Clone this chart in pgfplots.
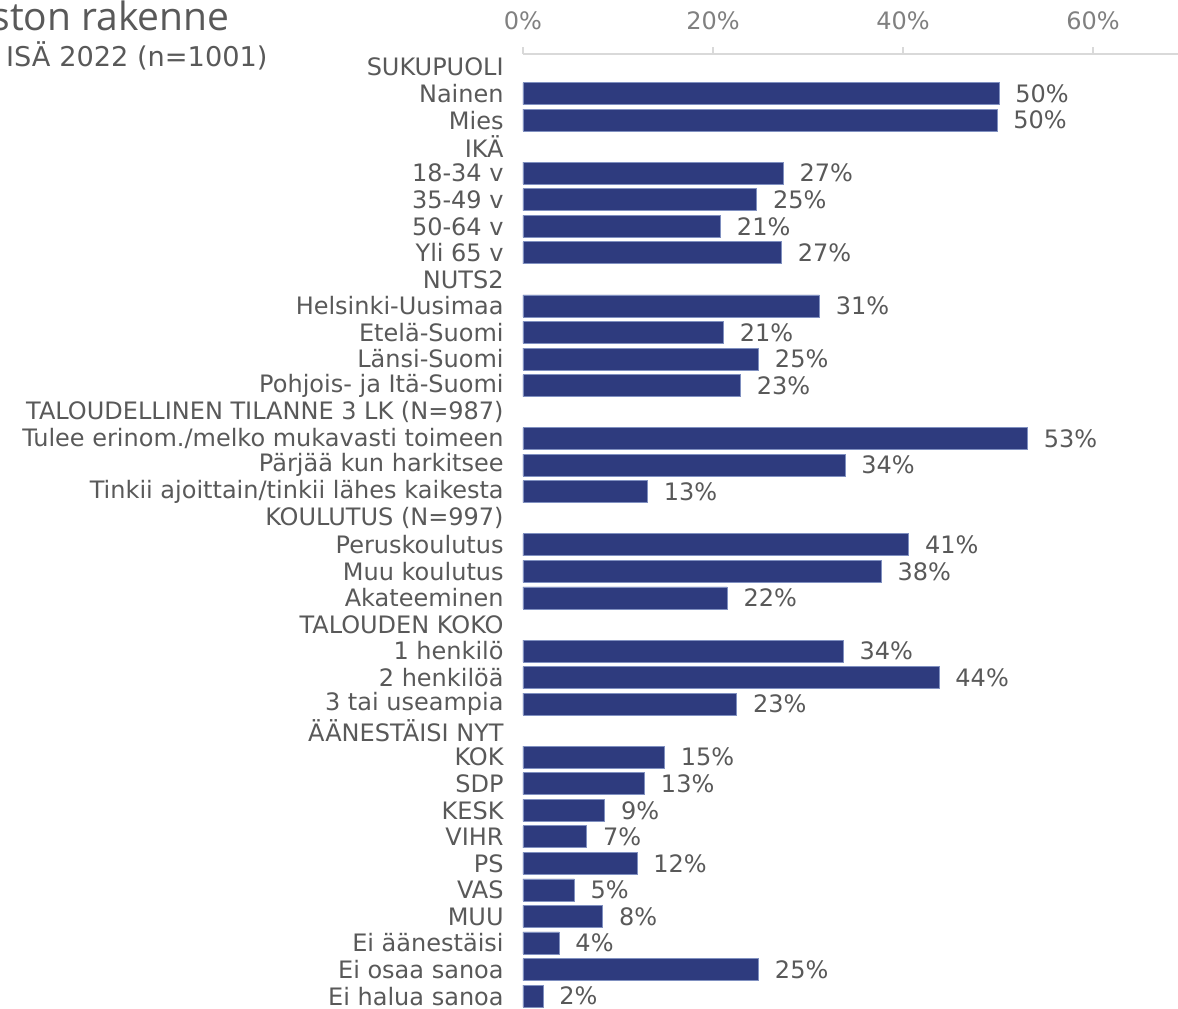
\documentclass[border=0pt]{standalone}
\usepackage{pgfplots}
\pgfplotsset{compat=1.18}
\usepackage{pgfplotstable}
\usepackage{fontspec}
\setmainfont{DejaVu Sans}
\newfontfamily\titlefont{Open Sans}
\definecolor{barblue}{HTML}{2E3B7E}
\definecolor{bardraw}{HTML}{8090C0}
\definecolor{txtgray}{HTML}{595959}
\definecolor{ticktxt}{HTML}{808080}
\definecolor{axline}{HTML}{D9D9D9}
\pgfplotstableread{
row val lab
1 50.1 50
2 49.9 50
4 27.4 27
5 24.6 25
6 20.8 21
7 27.2 27
9 31.2 31
10 21.1 21
11 24.8 25
12 22.9 23
14 53.1 53
15 33.9 34
16 13.1 13
18 40.6 41
19 37.7 38
20 21.5 22
22 33.7 34
23 43.8 44
24 22.5 23
26 14.9 15
27 12.8 13
28 8.6 9
29 6.7 7
30 12.0 12
31 5.4 5
32 8.4 8
33 3.8 4
34 24.8 25
35 2.1 2
}\datatable
\begin{document}
\begin{tikzpicture}
\useasboundingbox (0pt,0pt) rectangle (589pt,-504pt);
\clip (0pt,0pt) rectangle (589pt,-504pt);
\node[anchor=base east, text=txtgray, font=\titlefont\fontsize{19.5}{22}\selectfont, inner sep=0pt] at (115pt,-15pt) {Aineiston rakenne};
\node[anchor=base east, text=txtgray, font=\fontsize{13.6}{16}\selectfont, inner sep=0pt] at (134pt,-33pt) {ISÄ 2022 (n=1001)};
\begin{axis}[
  at={(261.5pt,-27pt)}, anchor=north west,
  scale only axis, width=327.5pt, height=477pt,
  xmin=0, xmax=68.95,
  ymin=-0.49, ymax=35.45, y dir=reverse,
  xbar, bar width=11pt,
  axis x line=top, axis y line=left,
  x axis line style={draw=axline, line width=0.6pt, -},
  y axis line style={draw=none},
  xtick={0,20,40,60},
  xticklabel={\pgfmathprintnumber{\tick}\%},
  /pgf/number format/assume math mode=true,
  xtick style={draw=axline, line width=0.6pt},
  tick align=outside,
  major tick length=3.5pt,
  ytick={0,...,35},
  yticklabels={SUKUPUOLI,Nainen,Mies,IKÄ,18-34 v,35-49 v,50-64 v,Yli 65 v,NUTS2,Helsinki-Uusimaa,Etelä-Suomi,Länsi-Suomi,Pohjois- ja Itä-Suomi,TALOUDELLINEN TILANNE 3 LK (N=987),Tulee erinom./melko mukavasti toimeen,Pärjää kun harkitsee,Tinkii ajoittain/tinkii lähes kaikesta,KOULUTUS (N=997),Peruskoulutus,Muu koulutus,Akateeminen,TALOUDEN KOKO,1 henkilö,2 henkilöä,3 tai useampia,ÄÄNESTÄISI NYT,KOK,SDP,KESK,VIHR,PS,VAS,MUU,Ei äänestäisi,Ei osaa sanoa,Ei halua sanoa},
  ytick style={draw=none},
  yticklabel style={font=\fontsize{12}{14}\selectfont, text=txtgray, inner sep=0pt, xshift=-6pt},
  xticklabel style={font=\fontsize{12}{14}\selectfont, text=ticktxt, inner sep=0pt, yshift=8.5pt},
  point meta=explicit symbolic,
  nodes near coords={\pgfplotspointmeta\%},
  every node near coord/.append style={font=\fontsize{12}{14}\selectfont, text=txtgray, anchor=west, inner sep=0pt, xshift=8pt},
  clip=false,
]
\addplot[fill=barblue, draw=bardraw, line width=0.4pt] table[x=val, y=row, meta=lab] {\datatable};
\end{axis}
\end{tikzpicture}
\end{document}
